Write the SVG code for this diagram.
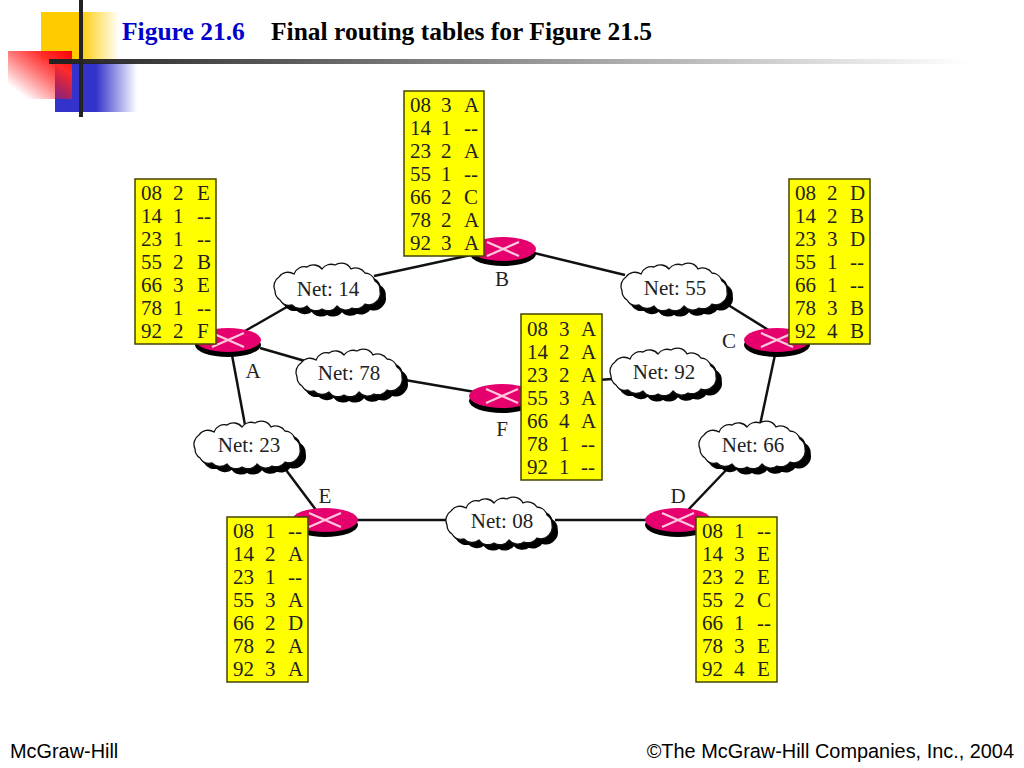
<svg xmlns="http://www.w3.org/2000/svg" xmlns:xlink="http://www.w3.org/1999/xlink" width="1024" height="768" viewBox="0 0 1024 768">
<style>
.t{font-family:"Liberation Serif","DejaVu Serif",serif;font-size:21px;fill:#222}
.c{font-family:"Liberation Serif","DejaVu Serif",serif;font-size:21px;fill:#222;text-anchor:middle}
.f{font-family:"Liberation Sans",Arial,sans-serif;font-size:19.9px;fill:#000}
.h{font-family:"Liberation Serif","DejaVu Serif",serif;font-size:25.5px;font-weight:bold}
.tb{fill:#ffff00;stroke:#444400;stroke-width:1.5}
.ln{stroke:#111;stroke-width:2.5;fill:none}
</style>
<defs>
<linearGradient id="gy" x1="0" x2="1" y1="0" y2="0"><stop offset="0.5" stop-color="#ffcc00"/><stop offset="1" stop-color="#ffcc00" stop-opacity="0"/></linearGradient>
<linearGradient id="gb" x1="0" x2="1" y1="0" y2="0"><stop offset="0.5" stop-color="#3333cc"/><stop offset="1" stop-color="#3333cc" stop-opacity="0"/></linearGradient>
<linearGradient id="gr" x1="1" x2="0" y1="0" y2="1"><stop offset="0" stop-color="#ff0000"/><stop offset="0.25" stop-color="#ff2a2a"/><stop offset="0.85" stop-color="#ff0000" stop-opacity="0"/></linearGradient>
<linearGradient id="gl" x1="0" x2="1" y1="0" y2="0"><stop offset="0" stop-color="#222"/><stop offset="1" stop-color="#222" stop-opacity="0"/></linearGradient>
<path id="cl" d="M-52,4 A11,11 0 0 1 -48,-10 A11,11 0 0 1 -33,-13 A11,11 0 0 1 -20,-20 A11,11 0 0 1 -5,-18 A11,11 0 0 1 8,-22 A11,11 0 0 1 24,-18 A11,11 0 0 1 38,-14 A11,11 0 0 1 48,-6 A11,11 0 0 1 53,4 A11,11 0 0 1 50,14 A11,11 0 0 1 38,17 A11,11 0 0 1 25,21 A11,11 0 0 1 10,19 A11,11 0 0 1 -5,22 A11,11 0 0 1 -20,19 A11,11 0 0 1 -35,18 A11,11 0 0 1 -47,13 A11,11 0 0 1 -52,4 Z"/>
<g id="cloud"><use xlink:href="#cl" href="#cl" x="5" y="5" fill="#000" stroke="#000" stroke-width="1.5"/><use xlink:href="#cl" href="#cl" fill="#fff" stroke="#111" stroke-width="1.3"/></g>
<g id="rt"><ellipse cx="0" cy="5" rx="33" ry="12" fill="#000"/><ellipse cx="0" cy="0" rx="33" ry="12" fill="#e6006e"/><path d="M-16,-7 L16,7 M-16,7 L16,-7" stroke="#ffc8dc" stroke-width="2.2"/></g>
</defs>

<g id="decor">
<rect x="41" y="12" width="78" height="48" fill="url(#gy)"/>
<rect x="55" y="63" width="82" height="49" fill="url(#gb)"/>
<rect x="8" y="51" width="64" height="48" fill="url(#gr)"/>
<rect x="79" y="0" width="4" height="117" fill="#222"/>
<rect x="49" y="59" width="920" height="5" fill="url(#gl)"/>
</g>
<g id="title">
<text class="h" x="122" y="40" fill="#0000cc">Figure 21.6</text>
<text class="h" x="271" y="40" fill="#000">Final routing tables for Figure 21.5</text>
</g>

<g id="connectors">
<path class="ln" d="M245,331 L292,304"/>
<path class="ln" d="M374,276 L480,253"/>
<path class="ln" d="M530,252 L625,275"/>
<path class="ln" d="M725,303 L770,331"/>
<path class="ln" d="M776,350 L760,425"/>
<path class="ln" d="M730,466 L688,510"/>
<path class="ln" d="M555,520 L650,520"/>
<path class="ln" d="M355,520 L450,520"/>
<path class="ln" d="M283,466 L316,510"/>
<path class="ln" d="M232,355 L245,425"/>
<path class="ln" d="M260,348 L305,361"/>
<path class="ln" d="M405,380 L475,392"/>
<path class="ln" d="M598,380 L612,379"/>
</g>

<g id="net14"><use xlink:href="#cloud" href="#cloud" x="327" y="287"/><text class="c" x="328" y="296">Net: 14</text></g>
<g id="net55"><use xlink:href="#cloud" href="#cloud" x="674" y="287"/><text class="c" x="675" y="295">Net: 55</text></g>
<g id="net78"><use xlink:href="#cloud" href="#cloud" x="349" y="373"/><text class="c" x="349" y="380">Net: 78</text></g>
<g id="net92"><use xlink:href="#cloud" href="#cloud" x="663" y="372"/><text class="c" x="664" y="379">Net: 92</text></g>
<g id="net23"><use xlink:href="#cloud" href="#cloud" x="247" y="445"/><text class="c" x="249" y="452">Net: 23</text></g>
<g id="net66"><use xlink:href="#cloud" href="#cloud" x="752" y="445"/><text class="c" x="753" y="452">Net: 66</text></g>
<g id="net08"><use xlink:href="#cloud" href="#cloud" x="499" y="521"/><text class="c" x="502" y="528">Net: 08</text></g>

<g id="routerA"><use xlink:href="#rt" href="#rt" x="228" y="340"/><text class="c" x="253" y="378">A</text></g>
<g id="routerB"><use xlink:href="#rt" href="#rt" x="503" y="249"/><text class="c" x="502" y="286">B</text></g>
<g id="routerC"><use xlink:href="#rt" href="#rt" x="777" y="340"/><text class="c" x="729" y="348">C</text></g>
<g id="routerD"><use xlink:href="#rt" href="#rt" x="678" y="520"/><text class="c" x="678" y="503">D</text></g>
<g id="routerE"><use xlink:href="#rt" href="#rt" x="325" y="520"/><text class="c" x="325" y="503">E</text></g>
<g id="routerF"><use xlink:href="#rt" href="#rt" x="502" y="396"/><text class="c" x="502" y="436">F</text></g>

<g id="tableA"><rect class="tb" x="135" y="179" width="81" height="165"/>
<text class="t" x="141" y="200">08</text><text class="t" x="173" y="200">2</text><text class="t" x="197" y="200">E</text>
<text class="t" x="141" y="223">14</text><text class="t" x="173" y="223">1</text><text class="t" x="197" y="223">--</text>
<text class="t" x="141" y="246">23</text><text class="t" x="173" y="246">1</text><text class="t" x="197" y="246">--</text>
<text class="t" x="141" y="269">55</text><text class="t" x="173" y="269">2</text><text class="t" x="197" y="269">B</text>
<text class="t" x="141" y="292">66</text><text class="t" x="173" y="292">3</text><text class="t" x="197" y="292">E</text>
<text class="t" x="141" y="315">78</text><text class="t" x="173" y="315">1</text><text class="t" x="197" y="315">--</text>
<text class="t" x="141" y="338">92</text><text class="t" x="173" y="338">2</text><text class="t" x="197" y="338">F</text></g>

<g id="tableB"><rect class="tb" x="404" y="91" width="80" height="165"/>
<text class="t" x="410" y="112">08</text><text class="t" x="441" y="112">3</text><text class="t" x="464" y="112">A</text>
<text class="t" x="410" y="135">14</text><text class="t" x="441" y="135">1</text><text class="t" x="464" y="135">--</text>
<text class="t" x="410" y="158">23</text><text class="t" x="441" y="158">2</text><text class="t" x="464" y="158">A</text>
<text class="t" x="410" y="181">55</text><text class="t" x="441" y="181">1</text><text class="t" x="464" y="181">--</text>
<text class="t" x="410" y="204">66</text><text class="t" x="441" y="204">2</text><text class="t" x="464" y="204">C</text>
<text class="t" x="410" y="227">78</text><text class="t" x="441" y="227">2</text><text class="t" x="464" y="227">A</text>
<text class="t" x="410" y="250">92</text><text class="t" x="441" y="250">3</text><text class="t" x="464" y="250">A</text></g>

<g id="tableC"><rect class="tb" x="789" y="179" width="81" height="165"/>
<text class="t" x="795" y="200">08</text><text class="t" x="827" y="200">2</text><text class="t" x="850" y="200">D</text>
<text class="t" x="795" y="223">14</text><text class="t" x="827" y="223">2</text><text class="t" x="850" y="223">B</text>
<text class="t" x="795" y="246">23</text><text class="t" x="827" y="246">3</text><text class="t" x="850" y="246">D</text>
<text class="t" x="795" y="269">55</text><text class="t" x="827" y="269">1</text><text class="t" x="850" y="269">--</text>
<text class="t" x="795" y="292">66</text><text class="t" x="827" y="292">1</text><text class="t" x="850" y="292">--</text>
<text class="t" x="795" y="315">78</text><text class="t" x="827" y="315">3</text><text class="t" x="850" y="315">B</text>
<text class="t" x="795" y="338">92</text><text class="t" x="827" y="338">4</text><text class="t" x="850" y="338">B</text></g>

<g id="tableF"><rect class="tb" x="521" y="314" width="81" height="166"/>
<text class="t" x="527" y="336">08</text><text class="t" x="559" y="336">3</text><text class="t" x="581" y="336">A</text>
<text class="t" x="527" y="359">14</text><text class="t" x="559" y="359">2</text><text class="t" x="581" y="359">A</text>
<text class="t" x="527" y="382">23</text><text class="t" x="559" y="382">2</text><text class="t" x="581" y="382">A</text>
<text class="t" x="527" y="405">55</text><text class="t" x="559" y="405">3</text><text class="t" x="581" y="405">A</text>
<text class="t" x="527" y="428">66</text><text class="t" x="559" y="428">4</text><text class="t" x="581" y="428">A</text>
<text class="t" x="527" y="451">78</text><text class="t" x="559" y="451">1</text><text class="t" x="581" y="451">--</text>
<text class="t" x="527" y="474">92</text><text class="t" x="559" y="474">1</text><text class="t" x="581" y="474">--</text></g>

<g id="tableE"><rect class="tb" x="227" y="517" width="81" height="165"/>
<text class="t" x="233" y="538">08</text><text class="t" x="265" y="538">1</text><text class="t" x="288" y="538">--</text>
<text class="t" x="233" y="561">14</text><text class="t" x="265" y="561">2</text><text class="t" x="288" y="561">A</text>
<text class="t" x="233" y="584">23</text><text class="t" x="265" y="584">1</text><text class="t" x="288" y="584">--</text>
<text class="t" x="233" y="607">55</text><text class="t" x="265" y="607">3</text><text class="t" x="288" y="607">A</text>
<text class="t" x="233" y="630">66</text><text class="t" x="265" y="630">2</text><text class="t" x="288" y="630">D</text>
<text class="t" x="233" y="653">78</text><text class="t" x="265" y="653">2</text><text class="t" x="288" y="653">A</text>
<text class="t" x="233" y="676">92</text><text class="t" x="265" y="676">3</text><text class="t" x="288" y="676">A</text></g>

<g id="tableD"><rect class="tb" x="696" y="517" width="81" height="165"/>
<text class="t" x="702" y="538">08</text><text class="t" x="734" y="538">1</text><text class="t" x="757" y="538">--</text>
<text class="t" x="702" y="561">14</text><text class="t" x="734" y="561">3</text><text class="t" x="757" y="561">E</text>
<text class="t" x="702" y="584">23</text><text class="t" x="734" y="584">2</text><text class="t" x="757" y="584">E</text>
<text class="t" x="702" y="607">55</text><text class="t" x="734" y="607">2</text><text class="t" x="757" y="607">C</text>
<text class="t" x="702" y="630">66</text><text class="t" x="734" y="630">1</text><text class="t" x="757" y="630">--</text>
<text class="t" x="702" y="653">78</text><text class="t" x="734" y="653">3</text><text class="t" x="757" y="653">E</text>
<text class="t" x="702" y="676">92</text><text class="t" x="734" y="676">4</text><text class="t" x="757" y="676">E</text></g>

<g id="footer">
<text class="f" x="10" y="758">McGraw-Hill</text>
<text class="f" x="1014" y="758" text-anchor="end">©The McGraw-Hill Companies, Inc., 2004</text>
</g>
</svg>
